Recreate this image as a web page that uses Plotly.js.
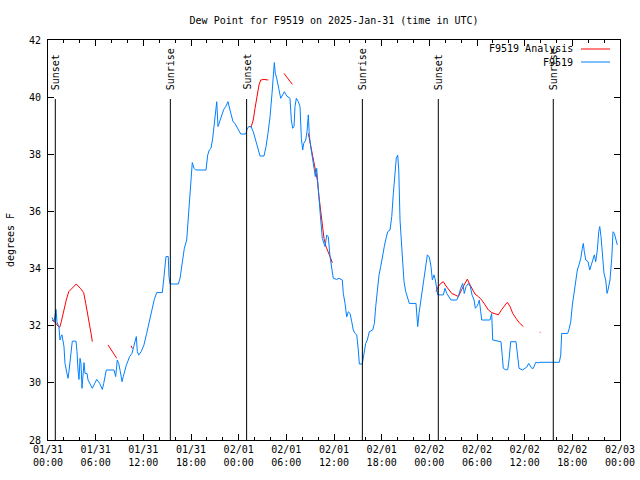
<!DOCTYPE html>
<html>
<head>
<meta charset="utf-8">
<script src="https://cdn.plot.ly/plotly-3.0.1.min.js"></script>
<style>html,body{margin:0;padding:0;background:#fff}#chart{width:640px;height:480px}</style>
</head>
<body>
<div id="chart"></div>
<script>
// Hours since 2025-01-31 00:00 UTC
const stationHours = [0.50,0.76,1.01,1.13,1.38,1.51,1.64,1.76,2.01,2.14,2.39,2.52,2.64,2.90,3.06,3.52,3.65,3.78,3.90,4.03,4.15,4.28,4.41,4.53,4.66,4.91,5.04,5.29,5.58,5.88,6.13,6.51,6.84,7.01,7.34,8.31,8.52,8.72,8.90,9.10,9.32,9.48,9.86,10.28,10.57,10.79,10.99,11.12,11.24,11.42,11.74,12.08,12.42,12.80,13.09,13.38,13.68,14.39,14.60,14.85,15.14,15.23,15.36,16.40,16.62,16.91,17.16,17.46,17.59,17.79,18.00,18.16,18.38,18.59,19.89,20.10,20.30,20.52,20.73,20.90,21.11,21.24,21.40,21.61,21.87,22.12,22.37,22.66,22.91,23.07,23.29,23.54,23.88,24.26,24.89,25.05,25.26,25.55,25.84,26.06,26.35,26.69,27.19,27.44,27.69,27.95,28.20,28.36,28.49,28.61,28.79,29.04,29.29,29.54,29.75,30.05,30.46,30.63,30.80,30.97,31.09,31.26,31.51,31.72,31.89,32.06,32.19,32.44,32.60,32.77,32.89,33.07,33.27,33.48,33.65,33.82,33.95,34.11,34.33,34.53,34.87,35.08,35.28,35.50,35.71,35.91,36.34,36.63,37.05,37.17,37.39,37.60,37.80,38.02,38.23,38.43,38.65,38.86,39.06,39.19,39.56,39.78,39.99,40.19,40.45,40.87,41.08,41.25,41.45,41.67,41.88,42.08,42.33,42.55,42.76,43.05,43.27,43.47,43.68,43.84,44.02,44.15,44.31,44.60,44.81,45.03,45.23,45.48,46.32,46.41,46.54,46.70,46.95,47.24,47.54,47.75,48.00,48.21,48.38,48.59,48.76,48.93,49.06,49.76,49.97,50.19,50.48,50.73,51.45,51.65,51.95,52.20,52.40,52.62,52.91,53.16,53.37,53.63,53.79,53.97,54.17,54.29,54.47,54.59,55.64,55.85,55.98,57.02,57.19,57.31,57.65,57.87,58.03,58.24,58.91,59.12,59.29,59.71,60.05,60.26,60.51,60.67,60.89,61.09,61.39,61.72,61.93,64.36,64.54,64.66,65.42,65.62,65.80,66.00,66.21,66.43,66.63,66.84,67.06,67.26,67.38,67.51,67.69,67.98,68.19,68.39,68.61,68.77,68.94,69.15,69.32,69.45,69.61,69.83,69.99,70.20,70.37,70.49,70.74,70.96,71.12,71.29,71.45,71.66];
const stationDew = [32.29,32.14,32.57,32.14,31.94,31.5,31.62,31.68,31.27,30.68,30.33,30.16,30.4,31.15,31.46,31.46,31.1,30.45,30.12,30.86,30.68,29.81,30.22,30.71,30.33,30.33,30.1,29.98,29.81,29.98,30.12,29.98,29.77,29.98,30.45,30.45,30.22,30.8,30.68,30.4,30.04,30.22,30.62,30.92,31.03,31.27,31.5,31.62,31.1,30.97,31.1,31.33,31.73,32.2,32.55,32.92,33.16,33.16,33.72,34.42,34.42,33.72,33.46,33.46,33.66,34.3,34.71,35.0,35.47,36.46,37.1,37.71,37.51,37.45,37.45,37.97,38.15,38.21,38.56,38.97,39.67,39.84,38.97,39.14,39.38,39.57,39.67,39.84,39.55,39.38,39.14,39.08,38.91,38.71,38.71,38.87,38.97,38.97,38.79,38.56,38.27,37.94,37.94,38.27,38.73,39.32,40.13,40.83,41.21,40.83,40.66,40.31,39.96,40.08,40.19,40.04,39.96,39.2,38.91,38.97,39.67,39.96,39.84,39.67,38.56,38.15,38.38,38.5,38.79,39.38,38.68,38.27,37.92,37.62,37.22,37.51,36.98,36.34,35.7,35.06,34.77,35.17,35.12,34.42,34.0,33.66,33.62,33.66,33.6,33.13,32.78,32.31,32.49,32.43,32.14,31.85,31.73,31.68,31.15,30.66,30.66,31.03,31.38,31.5,31.79,31.85,32.08,32.67,33.31,33.78,34.07,34.42,34.77,35.06,35.29,35.35,35.82,36.63,37.45,37.86,37.97,37.45,35.7,34.48,33.54,33.19,33.02,32.78,32.78,32.2,31.97,32.43,32.9,33.48,34.13,34.48,34.4,34.07,33.6,33.78,33.6,33.3,33.08,33.08,33.31,33.13,33.02,32.9,32.9,33.02,33.31,33.48,33.13,33.37,33.48,33.37,33.08,32.9,32.61,32.67,32.78,32.9,32.49,32.2,32.2,32.43,31.5,31.44,30.92,30.51,30.45,30.47,30.8,31.44,31.44,30.92,30.51,30.45,30.51,30.55,30.68,30.59,30.51,30.51,30.72,30.7,30.72,30.72,30.97,31.73,31.73,31.91,32.14,32.72,33.13,33.54,33.95,34.13,34.36,34.71,34.88,34.59,34.3,34.24,33.95,34.13,34.36,34.48,34.24,34.65,35.29,35.47,35.12,34.36,33.83,33.6,33.13,33.25,33.6,34.36,35.29,35.23,35.06,34.83];

// Analysis series (null = gap)
const analysisHours = [0.50,0.84,1.13,1.47,1.67,1.98,2.30,2.61,3.06,3.56,4.07,4.49,4.75,5.04,5.25,5.45,5.58,null,
  7.55,7.97,8.40,8.65,null,
  10.45,10.62,null,
  25.55,25.84,26.06,26.27,26.56,26.78,27.19,27.73,null,
  29.71,30.25,30.75,null,
  32.77,33.00,33.19,33.40,33.61,33.90,34.11,34.33,34.53,34.74,34.99,35.28,35.59,35.79,null,
  48.84,49.13,49.43,49.76,50.10,50.39,50.82,51.23,51.65,52.08,52.49,52.78,53.12,53.46,53.75,54.17,54.59,55.01,55.43,55.85,56.27,56.68,57.11,57.53,57.82,58.16,58.50,58.91,59.33,59.83,null,
  61.90,62.00];
const analysisDew = [32.2,32.14,32.03,31.94,32.14,32.55,32.9,33.19,33.31,33.46,33.31,33.16,32.78,32.38,31.97,31.68,31.44,null,
  31.33,31.15,30.97,30.86,null,
  31.3,31.2,null,
  38.94,39.2,39.61,40.02,40.43,40.6,40.62,40.6,null,
  40.83,40.62,40.45,null,
  38.73,38.4,38.09,37.8,37.57,37.1,36.52,35.93,35.47,35.06,34.77,34.59,34.36,34.2,null,
  33.19,33.37,33.48,33.54,33.39,33.27,33.13,33.08,33.02,33.27,33.48,33.63,33.43,33.25,33.11,33.02,32.9,32.73,32.55,32.46,32.41,32.38,32.57,32.73,32.82,32.67,32.43,32.26,32.1,31.97,null,
  31.77,31.77];

const sunHours = [0.92, 15.4, 25.0, 39.57, 49.13, 63.6];
const sunLabels = ["Sunset","Sunrise","Sunset","Sunrise","Sunset","Sunrise"];

const seriesNames = ["F9519 Analysis", "F9519"];
const seriesColors = ["#ff0000", "#0080ff"];

const T0 = Date.UTC(2025, 0, 31, 0, 0, 0);
const toMs = h => (h === null ? null : T0 + h * 3600000);

const FONT = "DejaVu Sans Mono, monospace";

const traces = [
  {x: analysisHours.map(toMs), y: analysisDew, mode: "lines", name: seriesNames[0],
   line: {color: seriesColors[0], width: 1}, connectgaps: false, hoverinfo: "skip"},
  {x: stationHours.map(toMs), y: stationDew, mode: "lines", name: seriesNames[1],
   line: {color: seriesColors[1], width: 1}, hoverinfo: "skip"}
];

const shapes = [];
const annotations = [];
sunHours.forEach((h, i) => {
  shapes.push({type: "line", xref: "x", yref: "paper", x0: toMs(h), x1: toMs(h), y0: 0, y1: 0.8525,
    line: {color: "#000", width: 1}});
  annotations.push({xref: "x", yref: "paper", x: toMs(h), y: 0.87, text: sunLabels[i], textangle: -90,
    showarrow: false, xanchor: "center", yanchor: "bottom", font: {family: FONT, size: 10, color: "#000"}});
});

// Custom legend (text left, line sample right)
const legendY = [49, 62];
seriesNames.forEach((n, i) => {
  const yp = (440 - legendY[i]) / 400;
  annotations.push({xref: "paper", yref: "paper", x: (575 - 48) / 572, y: yp, text: n, showarrow: false,
    xanchor: "right", yanchor: "middle", font: {family: FONT, size: 10, color: "#000"}});
  shapes.push({type: "line", xref: "paper", yref: "paper", x0: (581 - 48) / 572, x1: (610 - 48) / 572,
    y0: yp, y1: yp, line: {color: seriesColors[i], width: 1}});
});

const layout = {
  width: 640, height: 480,
  margin: {l: 48, r: 20, t: 40, b: 40, pad: 0},
  paper_bgcolor: "#fff", plot_bgcolor: "#fff",
  showlegend: false,
  font: {family: FONT, size: 10, color: "#000"},
  title: {text: "Dew Point for F9519 on 2025-Jan-31 (time in UTC)", x: 0.522, xanchor: "center",
    y: 1 - 20 / 480, yanchor: "middle", font: {family: FONT, size: 10, color: "#000"}},
  xaxis: {
    type: "date", range: [toMs(0), toMs(72)], dtick: 6 * 3600000, tick0: toMs(0),
    tickformat: "%m/%d<br>%H:%M", ticks: "inside", ticklen: 6, tickcolor: "#000",
    showline: true, linecolor: "#000", linewidth: 1, mirror: "ticks", showgrid: false, zeroline: false,
    minor: {dtick: 2 * 3600000, ticks: "inside", ticklen: 3, tickcolor: "#000", showgrid: false},
    tickfont: {family: FONT, size: 10, color: "#000"}, fixedrange: true
  },
  yaxis: {
    range: [28, 42], dtick: 2, ticks: "inside", ticklen: 6, tickcolor: "#000",
    showline: true, linecolor: "#000", linewidth: 1, mirror: "ticks", showgrid: false, zeroline: false,
    tickfont: {family: FONT, size: 10, color: "#000"}, ticklabelstandoff: 4,
    title: {text: "degrees F", font: {family: FONT, size: 10, color: "#000"}, standoff: 12}
  },
  shapes: shapes,
  annotations: annotations
};

Plotly.newPlot("chart", traces, layout, {staticPlot: true, displayModeBar: false});
</script>
</body>
</html>
